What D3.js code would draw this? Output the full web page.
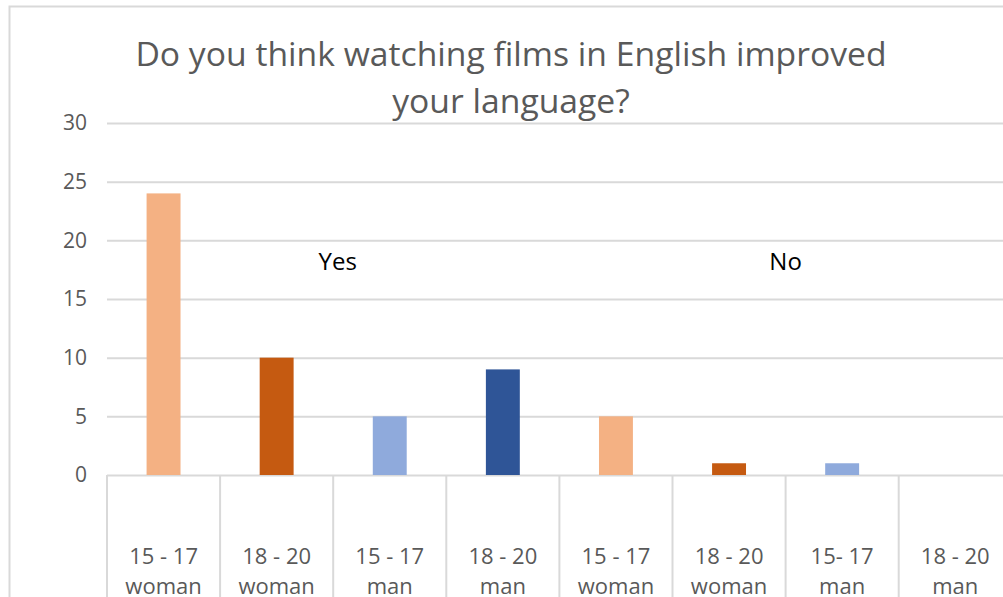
<!DOCTYPE html>
<html>
<head>
<meta charset="utf-8">
<style>
  body { margin: 0; background: #fff; }
  text { font-family: "Open Sans", "Noto Sans", sans-serif; }
</style>
</head>
<body>
<div id="chart"></div>
<script src="https://cdn.jsdelivr.net/npm/d3@7"></script>
<script>

// data
let age_groups = ["15 - 17", "18 - 20", "15 - 17", "18 - 20", "15 - 17", "18 - 20", "15- 17", "18 - 20"];
let genders = ["woman", "woman", "man", "man", "woman", "woman", "man", "man"];
let answer_counts = [24, 10, 5, 9, 5, 1, 1, 0];
let bar_colors = ["#F4B183", "#C55A11", "#8FAADC", "#2F5597", "#F4B183", "#C55A11", "#8FAADC", "#2F5597"];
let y_ticks = [0, 5, 10, 15, 20, 25, 30];
let group_labels = [{text: "Yes", at: 2.04}, {text: "No", at: 6.0}];
let title_lines = ["Do you think watching films in English improved", "your language?"];

let width = 1003, height = 597;
let margin = {top: 123, left: 107, bottom: 122};
let plot_width = 8 * 113.1;
let plot_height = height - margin.top - margin.bottom;

let svg = d3.select("#chart").append("svg")
    .attr("width", width)
    .attr("height", height);

// chart border
svg.append("rect")
    .attr("x", 9.5).attr("y", 6.5)
    .attr("width", 1100).attr("height", 700)
    .attr("fill", "none")
    .attr("stroke", "#d9d9d9")
    .attr("stroke-width", 2);

// title
svg.append("g").selectAll("text")
  .data(title_lines)
  .enter().append("text")
    .attr("x", 511)
    .attr("y", (d, i) => 66 + i * 47)
    .attr("text-anchor", "middle")
    .attr("font-size", 33.7)
    .attr("fill", "#595959")
    .text(d => d);

let g = svg.append("g")
    .attr("transform", "translate(" + margin.left + "," + margin.top + ")");

let idx = d3.range(answer_counts.length);

let x = d3.scaleBand()
    .domain(idx)
    .range([0, plot_width])
    .paddingInner(0.7)
    .paddingOuter(0.35);

let y = d3.scaleLinear()
    .domain([0, 30])
    .range([plot_height, 0]);

// y grid + labels
let y_axis = g.append("g")
    .call(d3.axisLeft(y).tickValues(y_ticks).tickSize(-plot_width).tickPadding(20));
y_axis.select(".domain").remove();
y_axis.selectAll(".tick line").attr("stroke", "#d9d9d9").attr("stroke-width", 2);
y_axis.selectAll(".tick text")
    .attr("font-size", 21)
    .attr("fill", "#595959")
    .attr("font-family", "Open Sans, sans-serif");

// category separators below the zero line
let step = plot_width / answer_counts.length;
g.append("g").selectAll("line")
  .data(d3.range(answer_counts.length + 1))
  .enter().append("line")
    .attr("x1", d => d * step).attr("x2", d => d * step)
    .attr("y1", plot_height).attr("y2", plot_height + 130)
    .attr("stroke", "#d9d9d9")
    .attr("stroke-width", 2);

// bars
g.selectAll(".bar")
  .data(idx)
  .enter().append("rect")
    .attr("class", "bar")
    .attr("x", d => x(d))
    .attr("y", d => y(answer_counts[d]))
    .attr("width", x.bandwidth())
    .attr("height", d => plot_height - y(answer_counts[d]))
    .attr("fill", d => bar_colors[d]);

// category labels
let cat = g.append("g").selectAll("text")
  .data(idx)
  .enter().append("text")
    .attr("text-anchor", "middle")
    .attr("font-size", 22)
    .attr("fill", "#595959")
    .attr("transform", d => "translate(" + (x(d) + x.bandwidth() / 2) + "," + (plot_height + 89) + ")");
cat.append("tspan").attr("x", 0).attr("dy", 0).text(d => age_groups[d]);
cat.append("tspan").attr("x", 0).attr("dy", 30).text(d => genders[d]);

// group labels
g.selectAll(".grp")
  .data(group_labels)
  .enter().append("text")
    .attr("class", "grp")
    .attr("x", d => d.at * step)
    .attr("y", y(17.5))
    .attr("text-anchor", "middle")
    .attr("font-size", 24)
    .attr("fill", "#000")
    .text(d => d.text);

</script>
</body>
</html>
